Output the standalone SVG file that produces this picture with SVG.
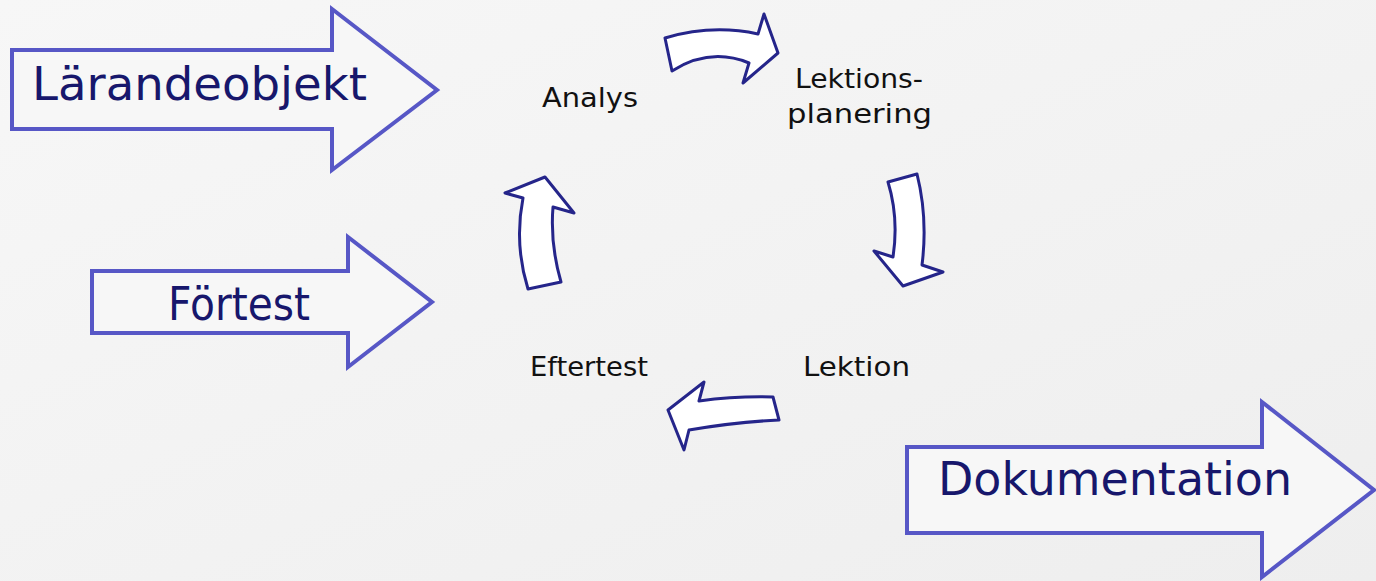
<svg xmlns="http://www.w3.org/2000/svg" width="1376" height="581" viewBox="0 0 1376 581">
<defs>
<linearGradient id="bg" x1="0" y1="0" x2="1" y2="1">
<stop offset="0" stop-color="#f7f7f7"/>
<stop offset="1" stop-color="#eeeeee"/>
</linearGradient>
</defs>
<style>
.big{fill:#f7f7f7;stroke:#5757c6;stroke-width:4;stroke-linejoin:miter}
.bigt{font-family:"DejaVu Sans","Liberation Sans",sans-serif;font-size:46px;fill:#17176c}
.cyc{fill:#ffffff;stroke:#25258a;stroke-width:3;stroke-linejoin:round}
.lbl{font-family:"DejaVu Sans","Liberation Sans",sans-serif;font-size:26px;fill:#111111}
</style>
<rect x="0" y="0" width="1376" height="581" fill="url(#bg)"/>
<g id="larandeobjekt">
<path class="big" d="M12,50 L332,50 L332,9 L437,90 L332,170 L332,129 L12,129 Z"/>
<text class="bigt" x="32" y="100" textLength="335" lengthAdjust="spacingAndGlyphs">Lärandeobjekt</text>
</g>
<g id="fortest">
<path class="big" d="M92,271 L348,271 L348,237 L432,302 L348,367 L348,333 L92,333 Z"/>
<text class="bigt" x="168" y="320" textLength="142" lengthAdjust="spacingAndGlyphs">Förtest</text>
</g>
<g id="dokumentation">
<path class="big" d="M907,447 L1262,447 L1262,402 L1374,490 L1262,577 L1262,533 L907,533 Z"/>
<text class="bigt" x="938" y="495" textLength="354" lengthAdjust="spacingAndGlyphs">Dokumentation</text>
</g>
<g id="analys">
<text class="lbl" x="542" y="107" textLength="96" lengthAdjust="spacingAndGlyphs">Analys</text>
</g>
<g id="lektionsplanering">
<text class="lbl" x="795" y="88" textLength="128" lengthAdjust="spacingAndGlyphs">Lektions-</text>
<text class="lbl" x="787" y="123" textLength="145" lengthAdjust="spacingAndGlyphs">planering</text>
</g>
<g id="lektion">
<text class="lbl" x="803" y="376" textLength="107" lengthAdjust="spacingAndGlyphs">Lektion</text>
</g>
<g id="eftertest">
<text class="lbl" x="530" y="376" textLength="118" lengthAdjust="spacingAndGlyphs">Eftertest</text>
</g>
<g id="connectors">
<path class="cyc" d="M665,38 Q712,24 758,34 L764,14 L778,53 L743,83 L749,63 Q710,47 672,71 Z"/>
<path class="cyc" d="M888,182 L917,174 Q928,218 922,265 L943,272 L903,286 L874,251 L893,257 Q899,218 888,182 Z"/>
<path class="cyc" d="M773,397 L779,420 Q736,422 689,430 L684,450 L668,410 L704,382 L699,401 Q736,396 773,397 Z"/>
<path class="cyc" d="M528,289 L561,282 Q550,244 553,207 L574,213 L545,177 L505,193 L523,198 Q514,244 528,289 Z"/>
</g>
</svg>
